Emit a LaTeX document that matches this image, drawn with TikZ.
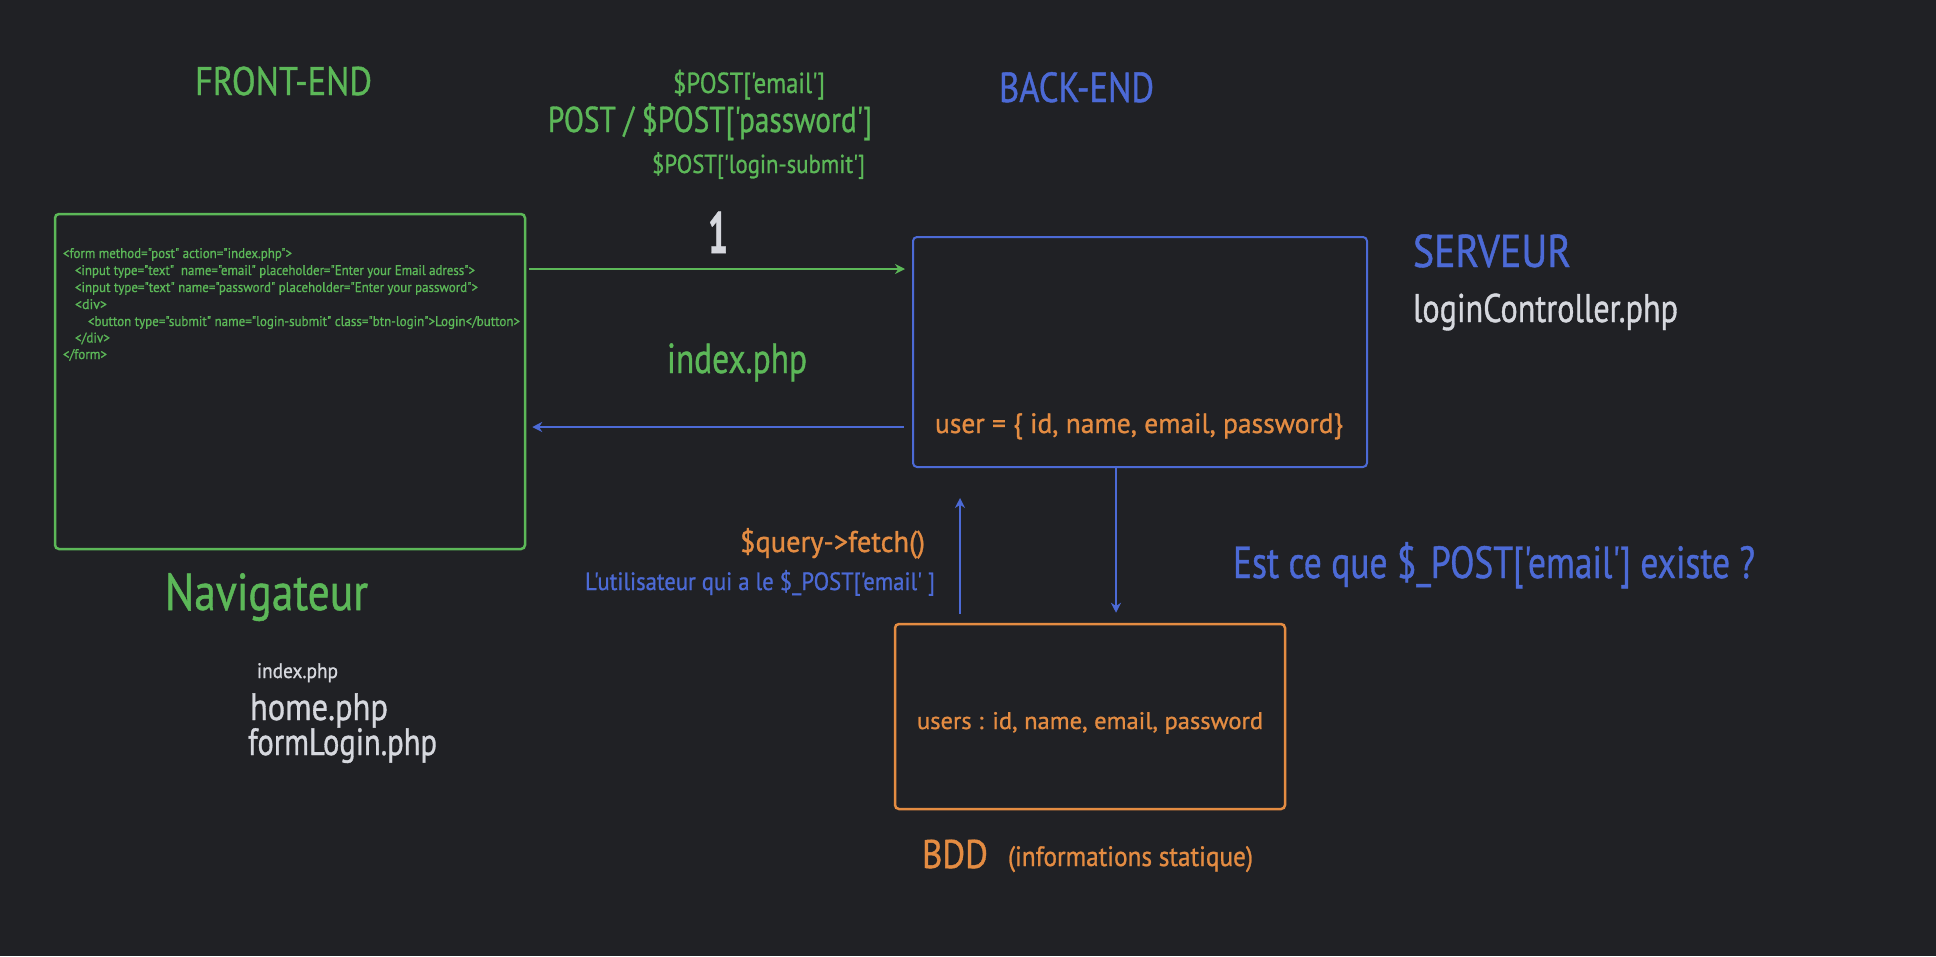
\documentclass[tikz,border=0pt]{standalone}
\usepackage{fontspec}
\setmainfont{PT Sans}
\newfontfamily\hand{PT Sans}[FakeBold=1]
\usepackage{graphicx}
\usetikzlibrary{arrows.meta}
\definecolor{bg}{RGB}{32,33,37}
\definecolor{cgreen}{RGB}{92,184,88}
\definecolor{cblue}{RGB}{76,106,214}
\definecolor{corange}{RGB}{228,140,66}
\definecolor{cgray}{RGB}{214,216,222}
\newcommand\fitw[3]{\resizebox{#1pt}{\height}{\hand\fontsize{#2pt}{#2pt}\selectfont #3}}
\tikzset{
  txt/.style={anchor=base west, inner sep=0pt, outer sep=0pt},
  boxbase/.style={draw, rectangle, rounded corners=4pt, inner sep=0pt},
  gboxst/.style={boxbase, cgreen, line width=2.5pt, minimum width=470pt, minimum height=335pt},
  bboxst/.style={boxbase, cblue, line width=2pt, minimum width=454pt, minimum height=230pt},
  oboxst/.style={boxbase, corange, line width=2.5pt, minimum width=390pt, minimum height=185pt},
  arr/.style={line width=1.8pt, -{Stealth[length=10pt,width=10pt]}},
}
\begin{document}
\begin{tikzpicture}[x=1pt,y=-1pt]
\fill[bg] (0,0) rectangle (1936,956);
\useasboundingbox (0,0) rectangle (1936,956);

% boxes
\node[gboxst] (gbox) at (290,381.5) {};
\node[bboxst] (sbox) at (1140,352) {};
\node[oboxst] (dbox) at (1090,716.5) {};

% code lines
\node[txt, cgreen] (c1) at (63,258) {\fitw{229}{14}{<form method="post" action="index.php">}};
\node[txt, cgreen] (c2) at (75,275) {\fitw{400}{14}{<input type="text"\ \ name="email" placeholder="Enter your Email adress">}};
\node[txt, cgreen] (c3) at (75,292) {\fitw{403}{14}{<input type="text" name="password" placeholder="Enter your password">}};
\node[txt, cgreen] (c4) at (75,309) {\fitw{32}{14}{<div>}};
\node[txt, cgreen] (c5) at (88,326) {\fitw{432}{14}{<button type="submit" name="login-submit" class="btn-login">Login</button>}};
\node[txt, cgreen] (c6) at (75,342.5) {\fitw{35}{14}{</div>}};
\node[txt, cgreen] (c7) at (63,359) {\fitw{44}{14}{</form>}};

% texts
\node[txt, cgreen] (front) at (195,95) {\fitw{177}{40}{FRONT-END}};
\node[txt, cblue] (back) at (999,102) {\fitw{155}{42}{BACK-END}};
\node[txt, cgreen] (pe) at (673,93) {\fitw{152}{29}{\$POST['email']}};
\node[txt, cgreen] (pp) at (548,132) {\fitw{324}{36}{POST / \$POST['password']}};
\node[txt, cgreen] (pl) at (652,173) {\fitw{213}{26}{\$POST['login-submit']}};
\node[txt, cgray] (one) at (708,253) {\fitw{20}{58}{\bfseries 1}};
\node[txt, cgreen] (idxg) at (667,373) {\fitw{140}{42}{index.php}};
\node[txt, cblue] (serv) at (1413,267) {\fitw{158}{46}{SERVEUR}};
\node[txt, cgray] (lc) at (1413,322) {\fitw{265}{40}{loginController.php}};
\node[txt, corange] (user) at (935,433) {\fitw{408}{28}{user = \{ id, name, email, password\}}};
\node[txt, corange] (fetch) at (740,552) {\fitw{185}{30}{\$query->fetch()}};
\node[txt, cblue] (lut) at (585,590) {\fitw{350}{25}{L'utilisateur qui a le \$\_POST['email' ]}};
\node[txt, cblue] (est) at (1233,578) {\fitw{522}{45}{Est ce que \$\_POST['email'] existe ?}};
\node[txt, cgreen] (nav) at (165,610) {\fitw{203}{52}{Navigateur}};
\node[txt, cgray] (idxw) at (257,678) {\fitw{81}{21}{index.php}};
\node[txt, cgray] (home) at (250,720) {\fitw{138}{38}{home.php}};
\node[txt, cgray] (flog) at (248,755) {\fitw{189}{38}{formLogin.php}};
\node[txt, corange] (users) at (917,729) {\fitw{346}{24}{users : id, name, email, password}};
\node[txt, corange] (bdd) at (922,868) {\fitw{66}{40}{BDD}};
\node[txt, corange] (info) at (1008,866) {\fitw{245}{28}{(informations statique)}};

% connector reference coordinates
\coordinate (yreq) at (700,269);
\coordinate (yres) at (700,427);
\coordinate (xup) at (960,550);
\coordinate (xdown) at (1116,550);

% connectors (yshift is in canvas pt: positive = up on the page)
\draw[arr, cgreen] ([xshift=3pt]gbox.east |- yreq) -- ([xshift=-7pt]sbox.west |- yreq);
\draw[arr, cblue] ([xshift=-8pt]sbox.west |- yres) -- ([xshift=6pt]gbox.east |- yres);
\draw[arr, cblue] ([yshift=9pt]dbox.north -| xup) -- ([yshift=-30pt]sbox.south -| xup);
\draw[arr, cblue] (sbox.south -| xdown) -- ([yshift=10pt]dbox.north -| xdown);
\end{tikzpicture}
\end{document}
